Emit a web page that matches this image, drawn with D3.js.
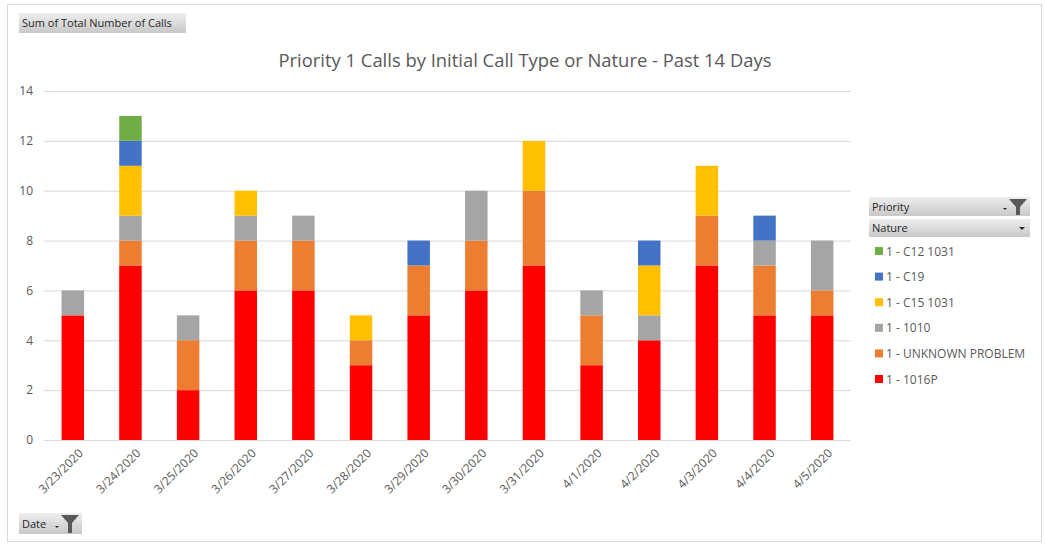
<!DOCTYPE html>
<html><head><meta charset="utf-8">
<script src="https://cdn.jsdelivr.net/npm/d3@7"></script>
<style>body{margin:0;background:#fff;} svg{display:block;} text{font-family:"Open Sans",sans-serif;}</style>
</head><body>
<svg id="c" width="1045" height="550"></svg>
<script>
const dates = ["3/23/2020","3/24/2020","3/25/2020","3/26/2020","3/27/2020","3/28/2020","3/29/2020","3/30/2020","3/31/2020","4/1/2020","4/2/2020","4/3/2020","4/4/2020","4/5/2020"];
const seriesNames = ["1 - 1016P","1 - UNKNOWN PROBLEM","1 - 1010","1 - C15 1031","1 - C19","1 - C12 1031"];
const s1016P   = [5,7,2,6,6,3,5,6,7,3,4,7,5,5];
const sUnknown = [0,1,2,2,2,1,2,2,3,2,0,2,2,1];
const s1010    = [1,1,1,1,1,0,0,2,0,1,1,0,1,2];
const sC15     = [0,2,0,1,0,1,0,0,2,0,2,2,0,0];
const sC19     = [0,1,0,0,0,0,1,0,0,0,1,0,1,0];
const sC12     = [0,1,0,0,0,0,0,0,0,0,0,0,0,0];
const yTicks = [0,2,4,6,8,10,12,14];
const colors = ["#FF0000","#ED7D31","#A5A5A5","#FFC000","#4472C4","#70AD47"];

const seriesVals = [s1016P,sUnknown,s1010,sC15,sC19,sC12];
const table = dates.map((d,i)=>{const o={date:d}; seriesNames.forEach((n,j)=>o[n]=seriesVals[j][i]); return o;});
const stacked = d3.stack().keys(seriesNames)(table);

const svg = d3.select("#c");
svg.append("rect").attr("x",7.5).attr("y",4.5).attr("width",1034).attr("height",537)
  .attr("fill","#fff").attr("stroke","#d9d9d9");

const x = d3.scaleBand().domain(dates).range([44,851]).paddingInner(0.61).paddingOuter(0.305);
const y = d3.scaleLinear().domain([0,14]).range([440,91]);

// grid
svg.append("g").selectAll("line").data(yTicks).join("line")
  .attr("x1",44).attr("x2",851).attr("y1",d=>y(d)+0.5).attr("y2",d=>y(d)+0.5)
  .attr("stroke","#d9d9d9").attr("stroke-width",1);

// y axis labels
const ya = svg.append("g").attr("transform","translate(33,0)")
  .call(d3.axisLeft(y).tickValues(yTicks).tickSize(0).tickPadding(0));
ya.select(".domain").remove();
ya.selectAll("text").attr("fill","#595959").style("font-size","12px").style("font-family","'Open Sans',sans-serif");

// bars
svg.append("g").selectAll("g").data(stacked).join("g").attr("fill",(d,i)=>colors[i])
  .selectAll("rect").data(d=>d).join("rect")
  .attr("x",d=>x(d.data.date)).attr("width",x.bandwidth())
  .attr("y",d=>y(d[1])).attr("height",d=>y(d[0])-y(d[1]));

// x axis
const xa = svg.append("g").attr("transform","translate(0,440)")
  .call(d3.axisBottom(x).tickSize(0).tickPadding(0));
xa.select(".domain").remove();
xa.selectAll("text").attr("fill","#595959").style("font-size","12px").style("font-family","'Open Sans',sans-serif")
  .attr("text-anchor","end").attr("dy",null).attr("y",0)
  .attr("transform","translate(11,14) rotate(-45)");

// title
svg.append("text").attr("x",525).attr("y",67).attr("text-anchor","middle")
  .attr("fill","#595959").style("font-size","18.4px").text("Priority 1 Calls by Initial Call Type or Nature - Past 14 Days");

// buttons
const defs = svg.append("defs");
const gr = defs.append("linearGradient").attr("id","btn").attr("x1",0).attr("y1",0).attr("x2",0).attr("y2",1);
gr.append("stop").attr("offset","0%").attr("stop-color","#eeeeee");
gr.append("stop").attr("offset","100%").attr("stop-color","#c8c8c8");

function button(x0,y0,w,h,label,filter,drop){
  const g = svg.append("g");
  g.append("rect").attr("x",x0).attr("y",y0).attr("width",w).attr("height",h).attr("fill","url(#btn)");
  g.append("text").attr("x",x0+3).attr("y",y0+h/2+4).attr("fill","#262626").style("font-size","11px").text(label);
  if(filter){
    const fx = x0+w-12;
    g.append("path").attr("d",`M${fx-9},${y0+2} L${fx+9},${y0+2} L${fx+2},${y0+10} L${fx+2},${y0+h-1} L${fx-2},${y0+h-1} L${fx-2},${y0+10} Z`).attr("fill","#595959");
    g.append("path").attr("d",`M${fx-15},${y0+h-8} l4,0 l-2,2 z`).attr("fill","#262626");
  }
  if(drop){
    g.append("path").attr("d",`M${x0+w-11},${y0+h/2-1} l6,0 l-3,3 z`).attr("fill","#262626");
  }
}
button(19,13,167,20,"Sum of Total Number of Calls",false,false);
button(19,513,63,21,"Date",true,false);
button(869,197,161,19,"Priority",true,false);
button(869,219,161,18,"Nature",false,true);

// legend
const legOrder = seriesNames.map((n,i)=>({n,c:colors[i]})).reverse();
const lg = svg.append("g").selectAll("g").data(legOrder).join("g")
  .attr("transform",(d,i)=>`translate(875,${251+i*25.6})`);
lg.append("rect").attr("x",0).attr("y",-4).attr("width",8).attr("height",8).attr("fill",d=>d.c);
lg.append("text").attr("x",11).attr("y",4.5).attr("fill","#595959").style("font-size","12px").text(d=>d.n);
</script>
</body></html>
